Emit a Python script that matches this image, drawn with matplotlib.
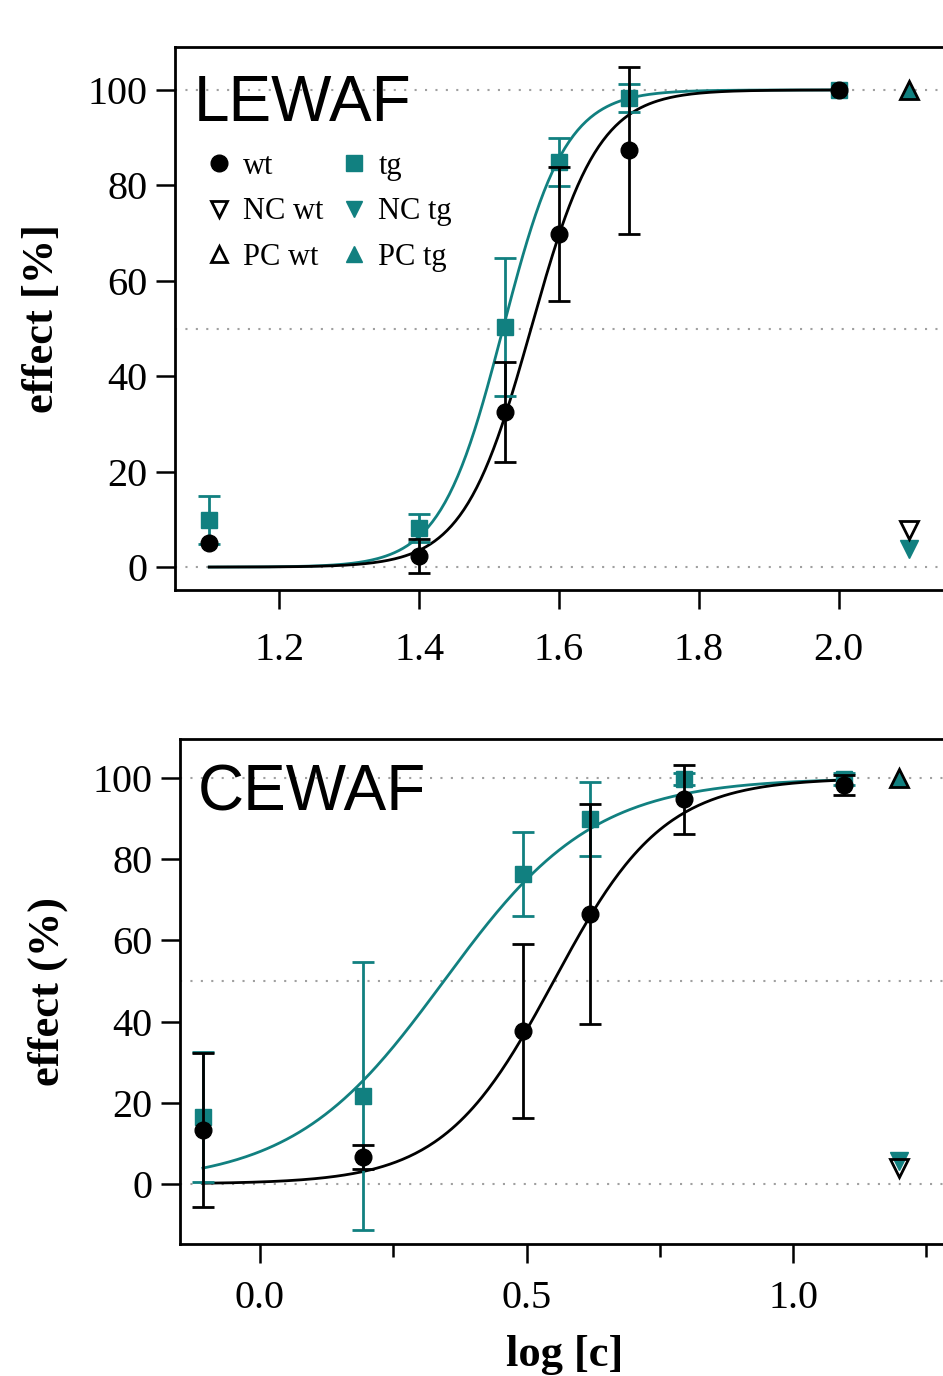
import numpy as np
import matplotlib.pyplot as plt
from matplotlib.lines import Line2D

plt.rcParams['font.family'] = ['Liberation Serif', 'DejaVu Serif']

teal = '#118080'
nan = np.nan

# LEWAF panel
lew_x = [1.1, 1.4, 1.523, 1.6, 1.7, 2.0]
lew_wt = [5.0, 2.3, 32.5, 69.8, 87.4, 100.0]
lew_wt_err = [nan, 3.5, 10.5, 14, 17.5, nan]
lew_tg = [9.9, 8.2, 50.3, 84.9, 98.3, 100.0]
lew_tg_err = [5, 3, 14.5, 5, 3, nan]
lew_ctrl_x = 2.1
lew_nc = {'wt': 7.8, 'tg': 3.8}
lew_pc = {'wt': 100.0, 'tg': 100.0}
lew_fit = {'wt': (1.56, 9.0), 'tg': (1.52, 9.7)}   # (logEC50, hill)

# CEWAF panel
cew_x = [-0.107, 0.193, 0.493, 0.619, 0.795, 1.096]
cew_wt = [13.3, 6.6, 37.7, 66.5, 94.8, 98.3]
cew_wt_err = [19, 3, 21.5, 27, 8.5, 2.5]
cew_tg = [16.5, 21.7, 76.4, 89.9, 99.8, 99.8]
cew_tg_err = [16, 33, 10.3, 9, 1.5, 1.5]
cew_ctrl_x = 1.199
cew_nc = {'wt': 3.9, 'tg': 5.7}
cew_pc = {'wt': 100.0, 'tg': 100.0}
cew_fit = {'wt': (0.551, 4.2), 'tg': (0.345, 3.08)}


def hill(x, ec50, h):
    return 100 / (1 + 10 ** ((ec50 - x) * h))


fig = plt.figure(figsize=(9.43, 13.76), dpi=100)


def panel(ax, x, wt, wt_err, tg, tg_err, cx, nc, pc, fit, xlim, ylim):
    for yy in [0, 50, 100]:
        ax.axhline(yy, color='#a0a0a0', lw=1.5, ls=(0, (1, 4)), zorder=1)
    xs = np.linspace(x[0], x[-1], 300)
    ax.plot(xs, hill(xs, *fit['tg']), color=teal, lw=2, zorder=2)
    ax.plot(xs, hill(xs, *fit['wt']), color='black', lw=2, zorder=2)
    ax.errorbar(x, tg, yerr=tg_err, fmt='s', color=teal, ms=11, capsize=8,
                elinewidth=2, capthick=2, zorder=3)
    ax.errorbar(x, wt, yerr=wt_err, fmt='o', color='black', ms=12, capsize=8,
                elinewidth=2, capthick=2, zorder=4)
    ax.plot(cx, pc['tg'], '^', color=teal, ms=13, mec=teal, zorder=5)
    ax.plot(cx, pc['wt'], '^', mfc='none', mec='black', mew=2, ms=13, zorder=6)
    ax.plot(cx, nc['tg'], 'v', color=teal, ms=13, zorder=5)
    ax.plot(cx, nc['wt'], 'v', mfc='none', mec='black', mew=2, ms=13, zorder=6)
    ax.set_xlim(*xlim)
    ax.set_ylim(*ylim)
    ax.set_yticks([0, 20, 40, 60, 80, 100])
    ax.spines['right'].set_visible(False)
    for s in ['left', 'bottom', 'top']:
        ax.spines[s].set_linewidth(2)
    ax.tick_params(axis='both', which='major', direction='out', length=14,
                   width=1.8, labelsize=29, pad=6)


ax1 = fig.add_axes([175 / 943, 1 - 590 / 1376, 1 - 175 / 943, (590 - 47) / 1376])
panel(ax1, lew_x, lew_wt, lew_wt_err, lew_tg, lew_tg_err, lew_ctrl_x,
      lew_nc, lew_pc, lew_fit, (1.051, 2.149), (-4.8, 109))
ax1.set_xticks([1.2, 1.4, 1.6, 1.8, 2.0])
ax1.set_xticklabels(['1.2', '1.4', '1.6', '1.8', '2.0'])
ax1.tick_params(axis='x', which='major', pad=16)
ax1.set_ylabel('effect [%]', fontsize=32, fontweight='bold')
ax1.yaxis.set_label_coords(-0.147, 0.5)

handles = [
    Line2D([], [], ls='none', marker='o', color='black', ms=12),
    Line2D([], [], ls='none', marker='v', mfc='none', mec='black', mew=2, ms=11),
    Line2D([], [], ls='none', marker='^', mfc='none', mec='black', mew=2, ms=11),
    Line2D([], [], ls='none', marker='s', color=teal, ms=11),
    Line2D([], [], ls='none', marker='v', color=teal, ms=11),
    Line2D([], [], ls='none', marker='^', color=teal, ms=11),
]
labels = ['wt', 'NC wt', 'PC wt', 'tg', 'NC tg', 'PC tg']
ax1.legend(handles, labels, ncol=2, frameon=False, fontsize=22,
           loc='upper left', bbox_to_anchor=(0.025, 0.83), handlelength=0.8,
           handletextpad=0.4, columnspacing=0.6, labelspacing=0.55,
           borderaxespad=0)

ax2 = fig.add_axes([180 / 943, 1 - 1244 / 1376, 1 - 180 / 943, (1244 - 739) / 1376])
panel(ax2, cew_x, cew_wt, cew_wt_err, cew_tg, cew_tg_err, cew_ctrl_x,
      cew_nc, cew_pc, cew_fit, (-0.150, 1.281), (-14.8, 109.6))
ax2.set_xticks([0.0, 0.5, 1.0])
ax2.set_xticklabels(['0.0', '0.5', '1.0'])
ax2.set_xticks([0.25, 0.75, 1.25], minor=True)
ax2.tick_params(axis='x', which='major', pad=12)
ax2.tick_params(axis='x', which='minor', direction='out', length=9, width=1.8)
ax2.set_ylabel('effect (%)', fontsize=32, fontweight='bold')
ax2.yaxis.set_label_coords(-0.147, 0.5)
ax2.set_xlabel('log [c]', fontsize=32, fontweight='bold')
ax2.xaxis.set_label_coords(0.5046, -0.18)

fig.text(194 / 943, 1 - 121 / 1376, 'LEWAF', fontsize=46, va='baseline',
         family='Liberation Sans')
fig.text(198 / 943, 1 - 810 / 1376, 'CEWAF', fontsize=46, va='baseline',
         family='Liberation Sans')

fig.savefig('out.png', dpi=100)
